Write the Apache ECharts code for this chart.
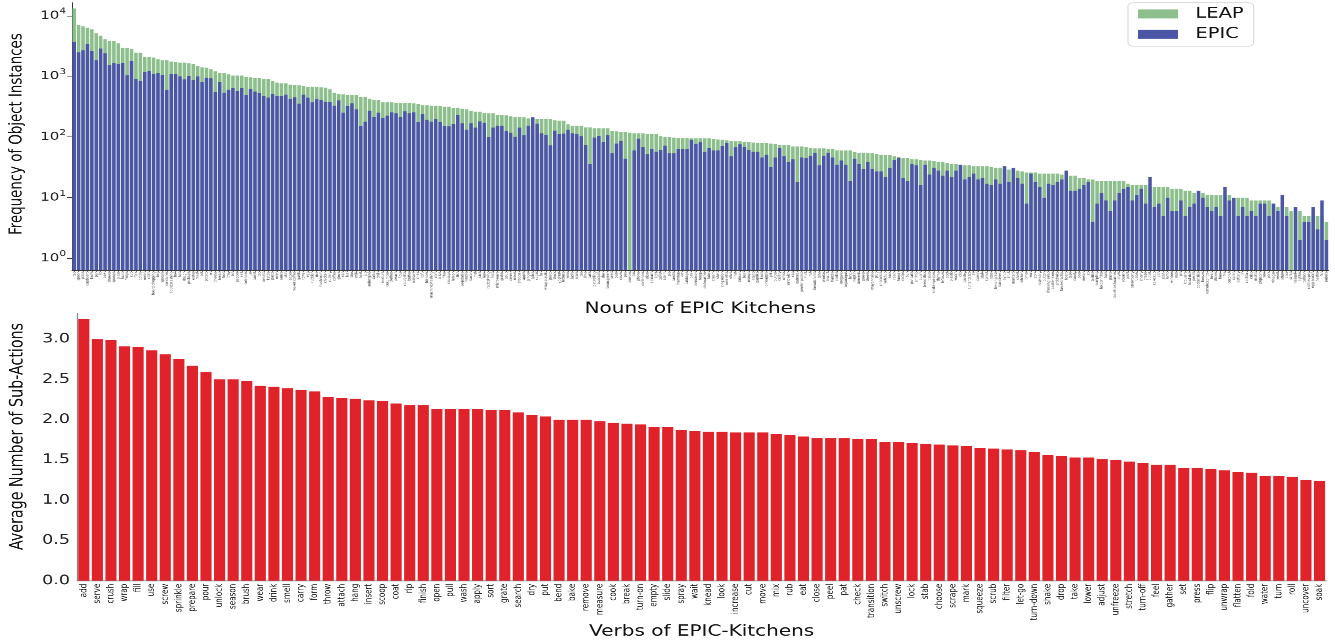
<!DOCTYPE html>
<html><head><meta charset="utf-8">
<script src="https://cdn.jsdelivr.net/npm/echarts@6/dist/echarts.min.js"></script>
<style>
html,body{margin:0;padding:0;background:#fff;}
#wrap{width:1335px;height:640px;overflow:hidden;position:relative;background:#fff;}
#chart{width:1335px;height:853.333px;transform:scaleY(0.75);transform-origin:0 0;}
</style></head><body><div id="wrap"><div id="chart"></div></div>
<script>
const nouns = ["tap","spoon","plate","cupboard","knife","pan","lid","bowl","drawer","sponge",
"glass","hand","fridge","cup","fork","bottle","onion","cloth","board:chopping","bag",
"spatula","container","liquid:washing","box","hob","dough","package","water","meat","pot",
"potato","oil","cheese","bread","food","tray","bin","pepper","salt","colander",
"jar","carrot","top","tomato","kettle","pasta","oven","sauce","skin","paper",
"maker:coffee","garlic","towel","egg","rubbish","rice","mushroom","chicken","cutlery","coffee",
"glove","can","leaf","sink","milk","heat","jug","aubergine","salad","chilli",
"mixture","cucumber","clothes","peach","flour","courgette","butter","scissors","chair","tofu",
"blender","machine:washing","corn","pizza","filter","sausage","lemon","fish","vegetable","noodle",
"bacon","mat","juice","leek","rack:drying","herb","microwave","grater","soup","cereal",
"mixer","broccoli","apple","ginger","spice","sugar","foil","wrap:plastic","pesto","stock",
"yoghurt","lettuce","wine","ladle","scale","tea","lime","cake","pin:rolling","avocado",
"shell","bean:green","seed","pear","cover","pea","powder","bar","phone","coriander",
"slicer","spinach","light","tablet","alarm","pie","candle","hummus","kiwi","cabbage",
"basil","cinnamon","tongs","dishwasher","label","cream","shelf","ring:onion","omelette","olive",
"hat","salmon","beef","mango","stand","paprika","knob","pineapple","grill","burger",
"celery","whisk","sandwich","cap","oatmeal","peeler:potato","mint","nut","breadcrumb","tuna",
"mortar","biscuit","handle","cookie","oregano","asparagus","lentil","napkin","turmeric","power",
"sheets","mayonnaise","plug","chocolate","ketchup","sock","raisin","funnel","recipe","bun",
"pancake","shrimp","quorn","breadstick","tissue","shaker:pepper","thyme","leftover","spot","plastic",
"watch","clip","parsley","cutter:pizza","air","cumin","stalk","sprout","stool","lemongrass",
"bar:cereal","syrup","fruit","mustard","sheet","kitchen","timer","wall","cork","rosemary",
"button","dressing:salad","cooker:slow","artichoke","fan:extractor","board","tape","candy","beer","melon",
"cd","tortilla","dumpling","holder:filter","kale","paste","tablet:dishwasher","dryer","squash","plant",
"strawberry","rubber","cherry","grape","outlet","cake:cup","pith","sushi","lamb","window",
"oats","pin","trousers","bowl:rice","pestle","cooker:rice","hoover","remote:control","bean","sticker",
"hook","fire","coconut","apron","battery","tin","cocktail","crisp","risotto","popcorn",
"wok","pork","vinegar","yeast","straw","door","scrap","nesquik","lighter","balloon",
"clothes:peg","egg:scotch","heater","fan","nutella"];

const leapCounts = [13200,7030,6680,6350,5960,5120,4690,4080,3830,3830,
3510,2940,2940,2830,2460,2460,2090,2090,2040,1910,
1840,1840,1750,1710,1690,1690,1640,1600,1490,1410,
1390,1310,1210,1140,1140,1080,1030,1030,1030,980,
965,940,940,905,905,840,790,
767,767,730,720,711,693,676,676,667,659,
651,611,538,512,505,493,493,493,462,462,
429,408,408,373,373,373,364,364,364,364,
359,350,333,333,329,329,325,316,316,301,
301,293,286,272,262,262,250,
246,246,233,233,228,219,214,214,211,203,
198,198,196,196,196,188,186,186,162,154,
154,154,144,144,139,139,139,139,126,124,
121,121,118,115,115,115,112,111,111,103,
99,99,98,96,96,96,95,
95,95,95,95,93,91,90,88,85,85,
85,83,83,81,80,80,79,78,77,74,
74,74,70,70,70,68,66,65,65,65,
63,63,60,60,60,60,56,55,55,55,
54,53,51,50,50,48,47,
45,45,43,43,42,41,41,40,39,39,
37,36,36,35,34,34,33,33,33,33,
32,31,31,30,29,29,28,27,26,26,
26,25,25,25,25,25,24,24,23,23,
21,21,20,20,19,19,
19,19,19,19,19,17,16,16,16,16,
15,15,15,15,15,14,14,14,13,13,
12,12,12,11,11,11,11,11,11,10,
10,10,10,9,9,9,9,9,8,7,
7,7,6,6,6,5,5,5,5,5,4];

const epicCounts = [3730,2490,2690,3420,2620,1840,2870,2400,1540,1660,
1600,1660,1040,1810,905,840,1180,1230,1100,1140,
1050,604,1100,1100,1000,894,1020,872,1000,808,
952,929,553,808,539,604,644,574,644,492,
620,560,532,475,446,512,475,
474,499,424,451,355,499,445,373,424,408,
383,378,329,402,252,325,359,286,152,179,
272,214,252,206,225,255,246,214,265,246,
255,177,239,193,179,196,177,152,150,164,
231,168,132,168,143,181,172,
99,143,154,154,126,118,101,143,107,154,
211,166,115,108,73,127,111,114,132,115,
112,103,74,36,98,104,83,107,54,78,
87,44,null,60,94,68,52,63,57,61,
72,54,54,63,63,63,90,
77,82,57,66,60,60,71,80,48,68,
76,69,61,57,57,46,51,32,46,66,
48,39,43,18,46,45,49,55,34,49,
55,46,35,41,35,19,44,36,30,39,
30,27,27,22,31,42,45,
21,19,36,34,16,35,24,31,28,23,
28,22,28,35,20,22,25,20,21,17,
16,20,17,33,18,31,21,17,8,25,
18,15,10,17,16,18,20,28,13,13,
14,16,18,4,8,12,
9,6,9,12,14,15,9,11,14,8,
22,7,8,5,10,6,6,9,5,7,
8,13,10,7,6,7,5,15,9,10,
5,7,5,6,5,8,8,5,8,6,
11,5,null,7,2,4,4,7,3,9,2];

const verbs = ["add","serve","crush","wrap","fill","use","screw","sprinkle","prepare","pour",
"unlock","season","brush","wear","drink","smell","carry","form","throw","attach",
"hang","insert","scoop","coat","rip","finish","open","pull","wash","apply",
"sort","grate","search","dry","put","bend","bake","remove","measure","cook",
"break","turn-on","empty","slide","spray","wait","knead","look","increase","cut",
"move","mix","rub","eat","close","peel","pat","check","transition","switch",
"unscrew","lock","stab","choose","scrape","mark","squeeze","scrub","filter","let-go",
"turn-down","shake","drop","take","lower","adjust","unfreeze","stretch","turn-off","feel",
"gather","set","press","flip","unwrap","flatten","fold","water","turn","roll",
"uncover","soak"];

const subActions = [3.25,3.00,2.99,2.91,2.90,2.86,2.81,2.75,2.67,2.59,
2.50,2.50,2.48,2.42,2.41,2.39,2.37,2.35,2.28,2.27,
2.26,2.24,2.23,2.20,2.18,2.18,2.13,2.13,2.13,2.13,
2.12,2.12,2.09,2.06,2.04,2.00,2.00,2.00,1.98,1.96,
1.95,1.94,1.91,1.91,1.87,1.86,1.85,1.85,1.84,1.84,
1.84,1.82,1.81,1.79,1.77,1.77,1.77,1.76,1.76,1.72,
1.72,1.71,1.70,1.69,1.68,1.67,1.65,1.64,1.63,1.62,
1.60,1.56,1.55,1.53,1.53,1.51,1.50,1.48,1.46,1.44,
1.44,1.40,1.40,1.39,1.37,1.35,1.34,1.30,1.30,1.29,
1.25,1.24];

const K = 0.75;                 // vertical squash of the whole figure
const py = v => v / K;          // reference px -> pre-transform px
const H = 640 / K;
const FONT = 'DejaVu Sans';

const chart = echarts.init(document.getElementById('chart'), null,
  {renderer: 'canvas', devicePixelRatio: 2, width: 1335, height: H});

const logMin = 0.641, logMax = 16400;

const option = {
  animation: false,
  backgroundColor: '#fff',
  textStyle: {fontFamily: FONT},
  legend: {
    data: ['LEAP', 'EPIC'],
    orient: 'vertical',
    left: 1128, top: py(2.7),
    icon: 'rect',
    itemWidth: 40, itemHeight: 12, itemGap: 7,
    padding: [5, 10, 6, 10],
    borderColor: '#d6d6d6', borderWidth: 1, borderRadius: 5,
    backgroundColor: '#fff',
    formatter: '  {name}',
    textStyle: {fontSize: 19.5, color: '#111', fontFamily: FONT}
  },
  grid: [
    {left: 71.5, right: 6.4, top: py(2.7), height: py(267.3)},
    {left: 72.3, right: 8.7, top: py(313.3), height: py(267.4)}
  ],
  xAxis: [
    {
      type: 'category', gridIndex: 0, data: nouns,
      axisLine: {lineStyle: {color: '#333', width: 1}},
      axisTick: {show: true, alignWithLabel: true, length: 2.5, lineStyle: {color: '#333', width: 0.6}},
      axisLabel: {interval: 0, rotate: 90, fontSize: 4, color: '#444', margin: 2},
      name: 'Nouns of EPIC Kitchens', nameLocation: 'middle', nameGap: 39,
      nameTextStyle: {fontSize: 20, color: '#111', fontFamily: FONT}
    },
    {
      type: 'category', gridIndex: 1, data: verbs,
      axisLine: {lineStyle: {color: '#8a8a8a', width: 1.2}},
      axisTick: {show: false},
      axisLabel: {interval: 0, rotate: 90, fontSize: 9.6, color: '#222', margin: 4},
      name: 'Verbs of EPIC-Kitchens', nameLocation: 'middle', nameGap: 58,
      nameTextStyle: {fontSize: 20, color: '#111', fontFamily: FONT}
    }
  ],
  yAxis: [
    {
      type: 'log', logBase: 10, gridIndex: 0, min: logMin, max: logMax, startValue: logMin,
      axisLine: {show: true, lineStyle: {color: '#333', width: 1}},
      axisTick: {show: true, length: 5, lineStyle: {color: '#333'}},
      splitLine: {show: false},
      axisLabel: {
        margin: 6, showMinLabel: false, showMaxLabel: false,
        formatter: function (v) {
          const e = Math.log10(v), r = Math.round(e);
          if (Math.abs(e - r) > 1e-6) return '';
          return '{b|10}{s|' + r + '}';
        },
        rich: {
          b: {fontSize: 15, lineHeight: 22, color: '#222', fontFamily: FONT},
          s: {fontSize: 10.5, lineHeight: 13, verticalAlign: 'top', color: '#222', fontFamily: FONT}
        }
      },
      name: 'Frequency of Object Instances', nameLocation: 'middle', nameRotate: 90, nameGap: 46,
      nameTextStyle: {fontSize: 17.8, color: '#111', fontFamily: FONT, padding: [0, 0, 0, 6]}
    },
    {
      type: 'value', gridIndex: 1, min: 0, max: 3.32, interval: 0.5,
      axisLine: {show: true, lineStyle: {color: '#8a8a8a', width: 1.2}},
      axisTick: {show: false},
      splitLine: {show: false},
      axisLabel: {margin: 7, showMaxLabel: false, fontSize: 17.5, color: '#222',
        formatter: v => v.toFixed(1)},
      name: 'Average Number of Sub-Actions', nameLocation: 'middle', nameRotate: 90, nameGap: 50,
      nameTextStyle: {fontSize: 19, color: '#111', fontFamily: FONT, padding: [0, 0, 0, 28]}
    }
  ],
  series: [
    {
      name: 'LEAP', type: 'bar', xAxisIndex: 0, yAxisIndex: 0,
      data: leapCounts, barWidth: '80%', barGap: '-100%',
      itemStyle: {color: '#8cbf8c'}
    },
    {
      name: 'EPIC', type: 'bar', xAxisIndex: 0, yAxisIndex: 0,
      data: epicCounts.map(v => v == null ? '-' : v), barWidth: '80%', barGap: '-100%',
      itemStyle: {color: '#4c56a6'}
    },
    {
      name: 'Sub-actions', type: 'bar', xAxisIndex: 1, yAxisIndex: 1,
      data: subActions, barWidth: '82%',
      itemStyle: {color: '#e0232a'}
    }
  ]
};
chart.setOption(option);
</script></body></html>
